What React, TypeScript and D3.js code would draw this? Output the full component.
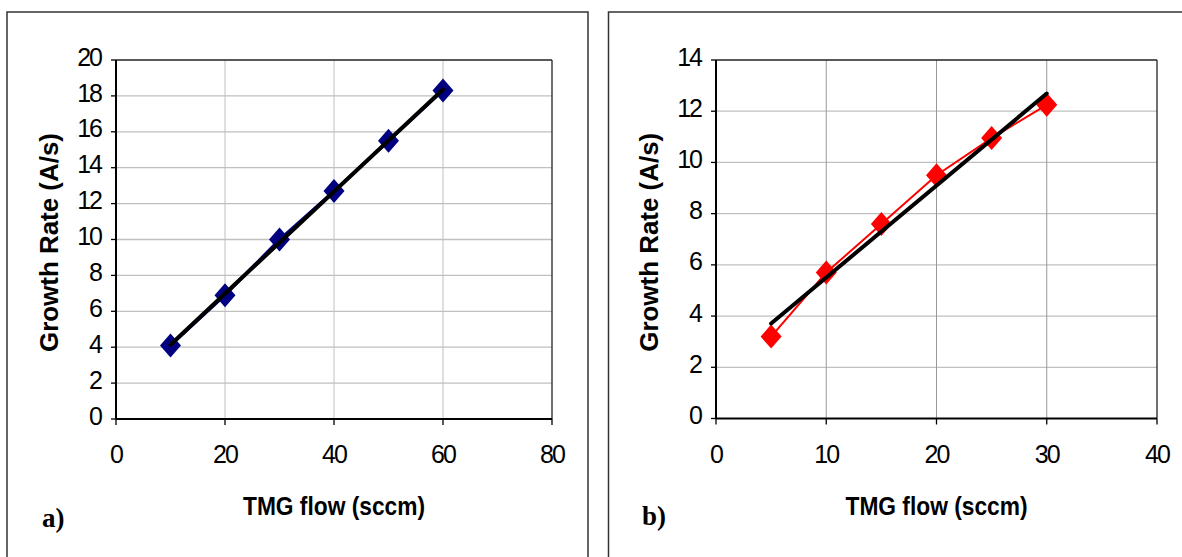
import React from "react";
import * as d3 from "d3";

// ---- data ----
const xA = [10, 20, 30, 40, 50, 60];
const yA = [4.1, 6.9, 10.0, 12.7, 15.5, 18.3];
const fitAx = [10, 60];
const fitAy = [4.14, 18.36];
const xTicksA = [0, 20, 40, 60, 80];
const yTicksA = [0, 2, 4, 6, 8, 10, 12, 14, 16, 18, 20];

const xB = [5, 10, 15, 20, 25, 30];
const yB = [3.2, 5.7, 7.6, 9.5, 10.95, 12.25];
const fitBx = [5, 30];
const fitBy = [3.71, 12.69];
const xTicksB = [0, 10, 20, 30, 40];
const yTicksB = [0, 2, 4, 6, 8, 10, 12, 14];

const xTitle = "TMG flow (sccm)";
const yTitle = "Growth Rate (A/s)";

type PanelProps = {
  box: [number, number, number, number];
  plot: [number, number, number, number]; // left, top, right, bottom
  xs: number[];
  ys: number[];
  fx: number[];
  fy: number[];
  xTicks: number[];
  yTicks: number[];
  color: string;
  lineW: number;
  vGrid: string;
  label: string;
  labelPos: [number, number];
};

const diamond = "M0,-12L10.5,0L0,12L-10.5,0Z";
const font = "Arial, 'Liberation Sans', sans-serif";

function Panel(p: PanelProps) {
  const [L, T, R, B] = p.plot;
  const x = d3.scaleLinear().domain([p.xTicks[0], p.xTicks[p.xTicks.length - 1]]).range([L, R]);
  const y = d3.scaleLinear().domain([p.yTicks[0], p.yTicks[p.yTicks.length - 1]]).range([B, T]);
  const line = d3.line<number>().x((_, i) => x(p.xs[i])).y((d) => y(d));
  const fit = d3.line<number>().x((_, i) => x(p.fx[i])).y((d) => y(d));
  return (
    <g>
      <rect x={p.box[0]} y={p.box[1]} width={p.box[2]} height={p.box[3]} fill="white" stroke="#333" strokeWidth={1.5} />
      {p.yTicks.slice(1, -1).map((t) => (
        <line key={"h" + t} x1={L} x2={R} y1={y(t)} y2={y(t)} stroke="#c0c0c0" strokeWidth={1.3} />
      ))}
      {p.xTicks.slice(1, -1).map((t) => (
        <line key={"v" + t} x1={x(t)} x2={x(t)} y1={T} y2={B} stroke={p.vGrid} strokeWidth={1} />
      ))}
      <line x1={L} x2={R} y1={T} y2={T} stroke="#222" strokeWidth={1.3} />
      <line x1={R} x2={R} y1={T} y2={B} stroke="#222" strokeWidth={1.3} />
      <line x1={L} x2={L} y1={T} y2={B} stroke="black" strokeWidth={2} />
      <line x1={L} x2={R} y1={B} y2={B} stroke="black" strokeWidth={2} />
      {p.yTicks.map((t) => (
        <g key={"yt" + t}>
          <line x1={L - 5} x2={L} y1={y(t)} y2={y(t)} stroke="black" strokeWidth={1.3} />
          <text x={L - 15} y={y(t) - 1} textAnchor="end" dominantBaseline="middle" fontFamily={font} fontSize={25} letterSpacing={-2}>
            {t}
          </text>
        </g>
      ))}
      {p.xTicks.map((t) => (
        <g key={"xt" + t}>
          <line x1={x(t)} x2={x(t)} y1={B} y2={B + 6} stroke="black" strokeWidth={1.3} />
          <text x={x(t)} y={456} textAnchor="middle" dominantBaseline="middle" fontFamily={font} fontSize={25} letterSpacing={-2}>
            {t}
          </text>
        </g>
      ))}
      <path d={line(p.ys) || ""} fill="none" stroke={p.color} strokeWidth={p.lineW} />
      {p.ys.map((v, i) => (
        <path key={"m" + i} d={diamond} transform={`translate(${x(p.xs[i])},${y(v)})`} fill={p.color} />
      ))}
      <path d={fit(p.fy) || ""} fill="none" stroke="black" strokeWidth={4} strokeLinecap="round" />
      <text x={(L + R) / 2} y={508} textAnchor="middle" dominantBaseline="middle" fontFamily={font} fontWeight="bold" fontSize={25} textLength={182} lengthAdjust="spacingAndGlyphs">
        {xTitle}
      </text>
      <text
        transform={`translate(51.5,${(T + B) / 2 + 3}) rotate(-90)`}
        textAnchor="middle"
        dominantBaseline="middle"
        fontFamily={font}
        fontWeight="bold"
        fontSize={25}
        textLength={219}
        lengthAdjust="spacingAndGlyphs"
      >
        {yTitle}
      </text>
      <text x={p.labelPos[0]} y={p.labelPos[1]} fontFamily="'Liberation Serif', 'Times New Roman', serif" fontWeight="bold" fontSize={27}>
        {p.label}
      </text>
    </g>
  );
}

export default function App() {
  return (
    <svg width={1182} height={557} style={{ position: "absolute", left: 0, top: 0, background: "white" }}>
      <rect x={0} y={0} width={1182} height={557} fill="white" />
      <Panel
        box={[7, 12, 581, 560]}
        plot={[116, 60, 552, 419]}
        xs={xA}
        ys={yA}
        fx={fitAx}
        fy={fitAy}
        xTicks={xTicksA}
        yTicks={yTicksA}
        color="#000080"
        lineW={3}
        vGrid="#c0c0c0"
        label="a)"
        labelPos={[42, 527]}
      />
      <g transform="translate(600,0)">
        <Panel
          box={[8.5, 12, 600, 560]}
          plot={[116, 60, 557, 418.5]}
          xs={xB}
          ys={yB}
          fx={fitBx}
          fy={fitBy}
          xTicks={xTicksB}
          yTicks={yTicksB}
          color="#ff0000"
          lineW={2}
          vGrid="#999999"
          label="b)"
          labelPos={[42, 525]}
        />
      </g>
    </svg>
  );
}
